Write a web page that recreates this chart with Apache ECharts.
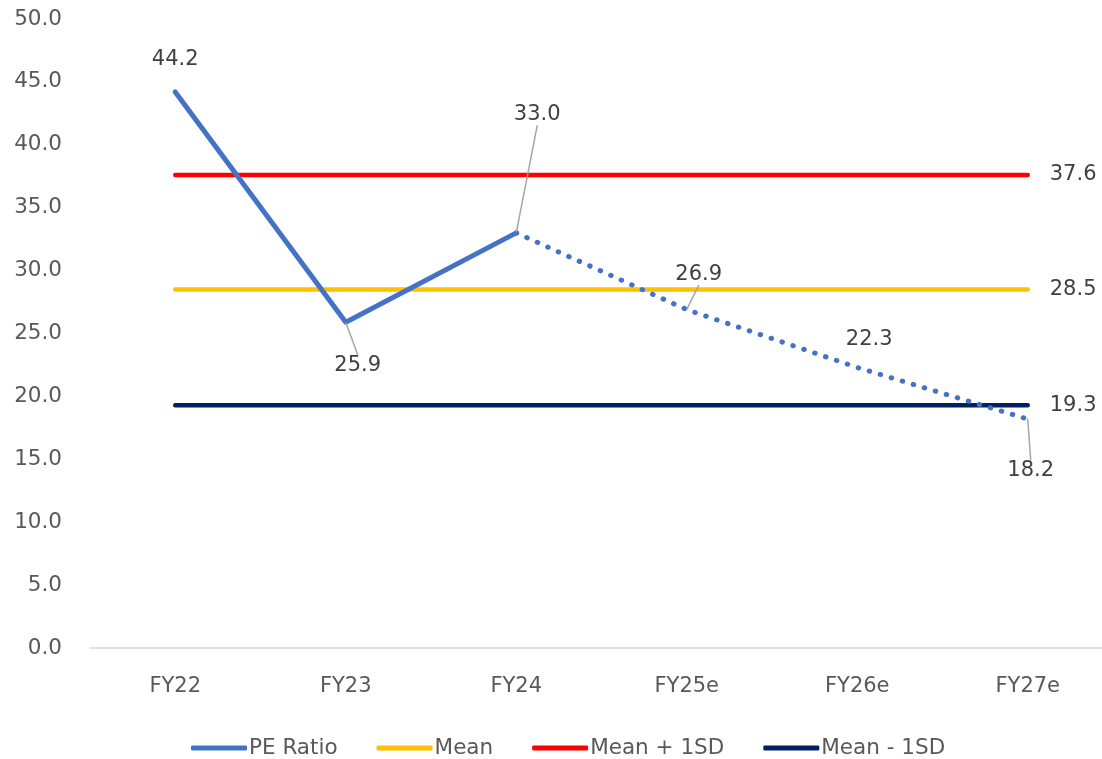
<!DOCTYPE html>
<html>
<head>
<meta charset="utf-8">
<script src="https://cdn.jsdelivr.net/npm/echarts@6/dist/echarts.min.js"></script>
<style>html,body{margin:0;padding:0;background:#fff;overflow:hidden}#c{width:1113px;height:759px}</style>
</head>
<body>
<div id="c"></div>
<script>
var categories = ['FY22', 'FY23', 'FY24', 'FY25e', 'FY26e', 'FY27e'];
var peActual = [44.2, 25.9, 33.0, null, null, null];
var peEstimate = [null, null, 33.0, 26.9, 22.3, 18.2];
var meanValues = [28.5, 28.5, 28.5, 28.5, 28.5, 28.5];
var meanPlusValues = [37.6, 37.6, 37.6, 37.6, 37.6, 37.6];
var meanMinusValues = [19.3, 19.3, 19.3, 19.3, 19.3, 19.3];
var yTicks = { min: 0, max: 50, interval: 5 };

var FONT = '"DejaVu Sans"';
var TXT = '#404040';

var actualOffsets = { 0: [0, -16], 1: [12, 59], 2: [21, -102] };
var estOffsets = { 3: [12, -19], 4: [12, -12], 5: [3, 68] };
var noLeader = { 0: true, 4: true };

function toData(arr, showFrom, showTo) {
  return arr.map(function (v, i) {
    return {
      value: v == null ? '-' : v,
      label: { show: v != null && i >= showFrom && i <= showTo },
      labelLine: { show: !noLeader[i] }
    };
  });
}

var labelCommon = {
  position: 'top',
  distance: 5,
  color: TXT,
  fontFamily: FONT,
  fontSize: 21,
  formatter: function (p) { return Number(p.value).toFixed(1); }
};
var labelLineCommon = { show: true, lineStyle: { color: '#a6a6a6', width: 1.5 } };

function flatLine(name, data, color) {
  return {
    name: name,
    type: 'line',
    data: data,
    symbol: 'none',
    lineStyle: { color: color, width: 4.5, cap: 'round' },
    itemStyle: { color: color },
    endLabel: {
      show: true,
      distance: 22,
      color: TXT,
      fontFamily: FONT,
      fontSize: 21,
      formatter: function (p) { return Number(p.value).toFixed(1); }
    },
    z: 2
  };
}

var chart = echarts.init(document.getElementById('c'));
chart.setOption({
  animation: false,
  textStyle: { fontFamily: FONT },
  grid: { left: 90, top: 19, right: 0, bottom: 111 },
  xAxis: {
    type: 'category',
    data: categories,
    boundaryGap: true,
    axisLine: { lineStyle: { color: '#d9d9d9', width: 1.5 } },
    axisTick: { show: false },
    axisLabel: { color: '#595959', fontSize: 21, fontFamily: FONT, margin: 28 }
  },
  yAxis: {
    type: 'value',
    min: yTicks.min,
    max: yTicks.max,
    interval: yTicks.interval,
    splitLine: { show: false },
    axisLine: { show: false },
    axisTick: { show: false },
    axisLabel: {
      color: '#595959', fontSize: 21.5, fontFamily: FONT, margin: 28,
      formatter: function (v) { return v.toFixed(1); }
    }
  },
  legend: {
    top: 732,
    left: 186,
    icon: 'roundRect',
    itemWidth: 56,
    itemHeight: 5,
    itemGap: 39,
    textStyle: { color: '#595959', fontSize: 21.5, fontFamily: FONT, padding: [0, 0, 0, -3] },
    data: ['PE Ratio', 'Mean', 'Mean + 1SD', 'Mean - 1SD']
  },
  series: [
    {
      name: 'PE Ratio',
      type: 'line',
      data: toData(peActual, 0, 2),
      symbol: 'circle',
      symbolSize: 1,
      showSymbol: true,
      lineStyle: { color: '#4472C4', width: 5, cap: 'round', join: 'round' },
      itemStyle: { color: '#4472C4' },
      label: labelCommon,
      labelLine: labelLineCommon,
      labelLayout: function (p) {
        var o = actualOffsets[p.dataIndex] || [0, 0];
        return { dx: o[0], dy: o[1] };
      },
      z: 5
    },
    {
      name: 'PE Ratio',
      type: 'line',
      data: toData(peEstimate, 3, 5),
      symbol: 'circle',
      symbolSize: 1,
      showSymbol: true,
      lineStyle: { color: '#4472C4', width: 5, type: [0.5, 11], cap: 'round' },
      itemStyle: { color: '#4472C4' },
      label: labelCommon,
      labelLine: labelLineCommon,
      labelLayout: function (p) {
        var o = estOffsets[p.dataIndex] || [0, 0];
        return { dx: o[0], dy: o[1] };
      },
      z: 5
    },
    flatLine('Mean', meanValues, '#FFC000'),
    flatLine('Mean + 1SD', meanPlusValues, '#FF0000'),
    flatLine('Mean - 1SD', meanMinusValues, '#002060')
  ]
});
</script>
</body>
</html>
